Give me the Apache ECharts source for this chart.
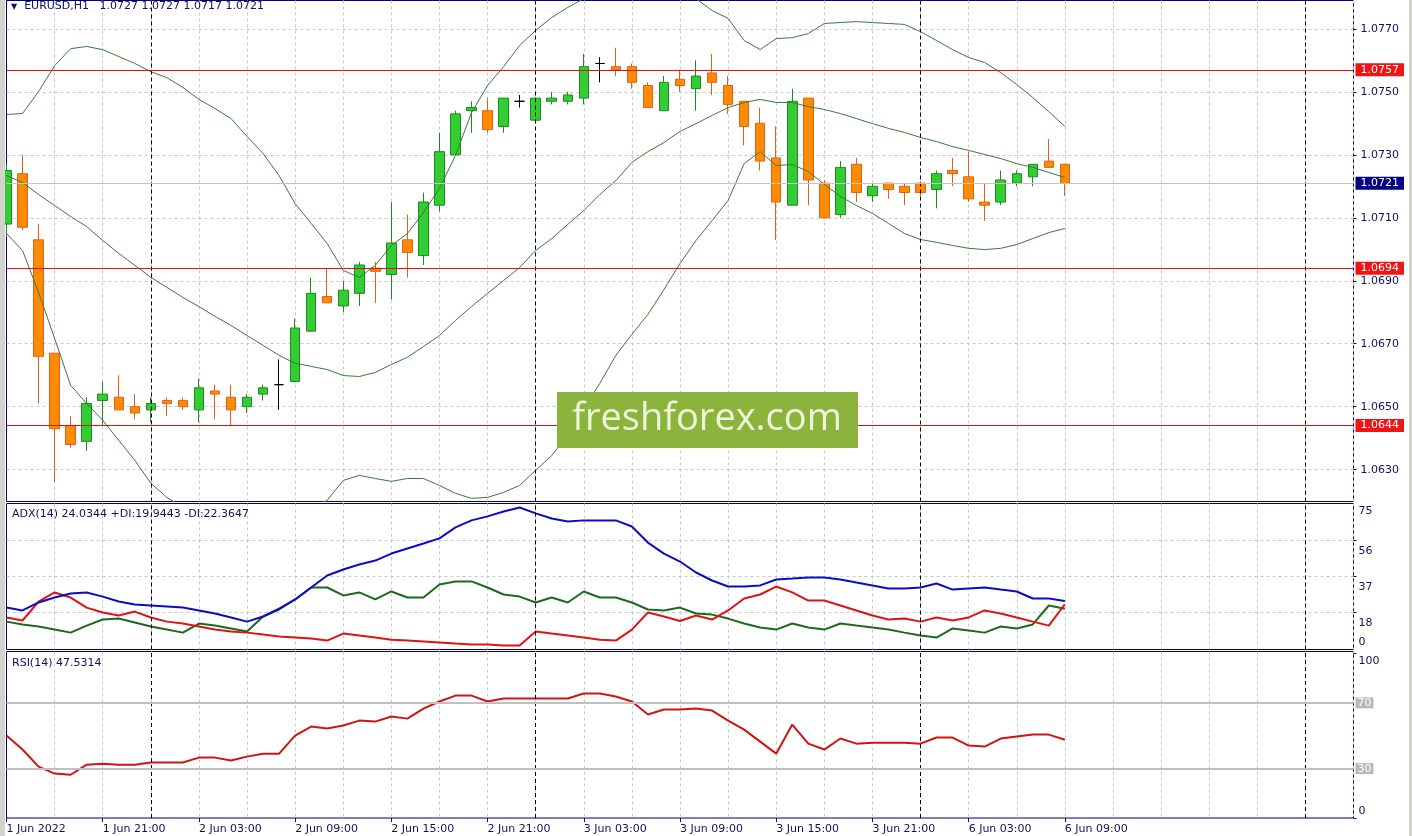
<!DOCTYPE html>
<html><head><meta charset="utf-8">
<script src="https://cdn.jsdelivr.net/npm/echarts@6/dist/echarts.min.js"></script>
<style>html,body{margin:0;padding:0;background:#fff}#c{width:1412px;height:836px}</style>
</head><body><div id="c"></div>
<script>
// ---------- DATA ----------
const barTimes = [
 '1 Jun 15:00','1 Jun 16:00','1 Jun 17:00','1 Jun 18:00','1 Jun 19:00','1 Jun 20:00','1 Jun 21:00','1 Jun 22:00','1 Jun 23:00',
 '2 Jun 00:00','2 Jun 01:00','2 Jun 02:00','2 Jun 03:00','2 Jun 04:00','2 Jun 05:00','2 Jun 06:00','2 Jun 07:00','2 Jun 08:00',
 '2 Jun 09:00','2 Jun 10:00','2 Jun 11:00','2 Jun 12:00','2 Jun 13:00','2 Jun 14:00','2 Jun 15:00','2 Jun 16:00','2 Jun 17:00',
 '2 Jun 18:00','2 Jun 19:00','2 Jun 20:00','2 Jun 21:00','2 Jun 22:00','2 Jun 23:00',
 '3 Jun 00:00','3 Jun 01:00','3 Jun 02:00','3 Jun 03:00','3 Jun 04:00','3 Jun 05:00','3 Jun 06:00','3 Jun 07:00','3 Jun 08:00',
 '3 Jun 09:00','3 Jun 10:00','3 Jun 11:00','3 Jun 12:00','3 Jun 13:00','3 Jun 14:00','3 Jun 15:00','3 Jun 16:00','3 Jun 17:00',
 '3 Jun 18:00','3 Jun 19:00','3 Jun 20:00','3 Jun 21:00','3 Jun 22:00','3 Jun 23:00',
 '6 Jun 00:00','6 Jun 01:00','6 Jun 02:00','6 Jun 03:00','6 Jun 04:00','6 Jun 05:00','6 Jun 06:00','6 Jun 07:00','6 Jun 08:00','6 Jun 09:00'
];
const futureSlots = [
 '6 Jun 10:00','6 Jun 11:00','6 Jun 12:00','6 Jun 13:00','6 Jun 14:00','6 Jun 15:00','6 Jun 16:00','6 Jun 17:00','6 Jun 18:00',
 '6 Jun 19:00','6 Jun 20:00','6 Jun 21:00','6 Jun 22:00','6 Jun 23:00','7 Jun 00:00','7 Jun 01:00','7 Jun 02:00','7 Jun 03:00'
];
const xTickLabels = ['1 Jun 2022','1 Jun 21:00','2 Jun 03:00','2 Jun 09:00','2 Jun 15:00','2 Jun 21:00',
 '3 Jun 03:00','3 Jun 09:00','3 Jun 15:00','3 Jun 21:00','6 Jun 03:00','6 Jun 09:00'];
const daySeparators = ['2 Jun 00:00','3 Jun 00:00','6 Jun 00:00','7 Jun 00:00'];

const opens = [1.0708,1.0724,1.0703,1.0667,1.0644,1.0639,1.0652,1.0653,1.0650,1.0649,1.0652,1.0652,1.0649,1.0655,1.0653,1.0650,1.0654,1.0657,
 1.0658,1.0674,1.0685,1.0682,1.0686,1.0694,1.0692,1.0703,1.0698,1.0714,1.0730,1.0744,1.0744,1.0739,1.0747,1.0741,1.0747,1.0747,1.0748,
 1.0759,1.0758,1.0758,1.0752,1.0744,1.0754,1.0751,1.0756,1.0752,1.0747,1.0740,1.0729,1.0714,1.0748,1.0721,1.0711,1.0727,1.0717,1.0721,
 1.0720,1.0721,1.0719,1.0725,1.0723,1.0715,1.0715,1.0721,1.0723,1.0728,1.0727];
const highs = [1.0727,1.0730,1.0708,1.0667,1.0647,1.0653,1.0658,1.0660,1.0654,1.0653,1.0653,1.0653,1.0659,1.0657,1.0657,1.0654,1.0657,1.0665,
 1.0678,1.0691,1.0694,1.0690,1.0696,1.0696,1.0715,1.0711,1.0718,1.0737,1.0744,1.0747,1.0748,1.0748,1.0749,1.0748,1.0750,1.0750,1.0762,
 1.0761,1.0764,1.0759,1.0753,1.0755,1.0757,1.0760,1.0762,1.0755,1.0747,1.0745,1.0739,1.0751,1.0748,1.0722,1.0728,1.0729,1.0721,1.0721,
 1.0721,1.0721,1.0725,1.0729,1.0731,1.0721,1.0725,1.0725,1.0727,1.0735,1.0727];
const lows = [1.0704,1.0706,1.0651,1.0626,1.0637,1.0636,1.0644,1.0649,1.0646,1.0645,1.0647,1.0649,1.0645,1.0646,1.0644,1.0648,1.0652,1.0649,
 1.0658,1.0674,1.0683,1.0680,1.0682,1.0683,1.0684,1.0691,1.0695,1.0712,1.0730,1.0737,1.0737,1.0737,1.0745,1.0741,1.0746,1.0746,1.0746,
 1.0753,1.0755,1.0751,1.0745,1.0744,1.0750,1.0744,1.0749,1.0743,1.0733,1.0725,1.0703,1.0714,1.0714,1.0710,1.0710,1.0715,1.0715,1.0716,
 1.0714,1.0717,1.0713,1.0720,1.0715,1.0709,1.0714,1.0720,1.0720,1.0726,1.0717];
const closes = [1.0725,1.0707,1.0666,1.0643,1.0638,1.0651,1.0654,1.0649,1.0648,1.0651,1.0651,1.0650,1.0656,1.0654,1.0649,1.0653,1.0656,1.0657,
 1.0675,1.0686,1.0683,1.0687,1.0695,1.0693,1.0702,1.0699,1.0715,1.0731,1.0743,1.0745,1.0738,1.0748,1.0747,1.0748,1.0748,1.0749,1.0758,
 1.0759,1.0757,1.0753,1.0745,1.0753,1.0752,1.0755,1.0753,1.0746,1.0739,1.0728,1.0715,1.0747,1.0722,1.0710,1.0726,1.0718,1.0720,1.0719,
 1.0718,1.0718,1.0724,1.0724,1.0716,1.0714,1.0722,1.0724,1.0727,1.0726,1.0721];

const bbUpper = [1.07428,1.07431,1.07501,1.07583,1.07637,1.07644,1.07634,1.07612,1.07590,1.07564,1.07545,1.07514,1.07476,1.07447,1.07415,
 1.07358,1.07304,1.07234,1.07145,1.07082,1.07018,1.06933,1.06910,1.06949,1.07012,1.07050,1.07117,1.07193,1.07298,1.07434,1.07520,1.07580,
 1.07647,1.07695,1.07736,1.07768,1.07796,1.07822,1.07838,1.07847,1.07847,1.07838,1.07822,1.07796,1.07758,1.07733,1.07663,1.07634,1.07669,
 1.07672,1.07685,1.07717,1.07720,1.07723,1.07720,1.07717,1.07714,1.07691,1.07663,1.07634,1.07609,1.07593,1.07561,1.07523,1.07482,1.07437,1.07390];
const bbMiddle = [1.07234,1.07212,1.07174,1.07139,1.07104,1.07072,1.07028,1.06987,1.06949,1.06911,1.06879,1.06847,1.06818,1.06787,1.06758,
 1.06726,1.06695,1.06663,1.06638,1.06628,1.06618,1.06599,1.06596,1.06609,1.06634,1.06657,1.06691,1.06726,1.06774,1.06818,1.06860,1.06901,
 1.06942,1.06996,1.07034,1.07079,1.07123,1.07174,1.07218,1.07276,1.07310,1.07339,1.07374,1.07399,1.07425,1.07450,1.07466,1.07476,1.07466,
 1.07466,1.07453,1.07444,1.07431,1.07415,1.07399,1.07384,1.07371,1.07355,1.07342,1.07326,1.07314,1.07301,1.07288,1.07272,1.07260,1.07244,1.07228];
const bbLower = [1.07050,1.06996,1.06863,1.06717,1.06568,1.06510,1.06457,1.06393,1.06330,1.06257,1.06212,1.06180,1.06161,1.06126,1.06101,
 1.06095,1.06085,1.06091,1.06130,1.06174,1.06203,1.06266,1.06282,1.06272,1.06263,1.06272,1.06272,1.06250,1.06225,1.06209,1.06212,1.06228,
 1.06250,1.06298,1.06345,1.06409,1.06495,1.06574,1.06663,1.06730,1.06793,1.06872,1.06955,1.07028,1.07091,1.07155,1.07272,1.07310,1.07266,
 1.07269,1.07247,1.07206,1.07168,1.07139,1.07114,1.07082,1.07050,1.07031,1.07022,1.07012,1.07003,1.06999,1.07003,1.07015,1.07034,1.07053,1.07066];

const adx = [20.6,19.1,23.3,25.9,28.0,28.6,26.4,23.8,22.2,21.7,21.2,20.6,19.1,17.5,15.4,13.2,15.9,20.1,24.9,31.2,37.5,40.7,43.3,45.4,
 49.1,51.8,54.4,57.1,62.9,66.6,68.7,71.3,73.4,70.3,67.6,66.0,66.6,66.6,66.6,63.4,54.9,49.1,44.9,39.1,34.9,31.7,31.7,32.3,35.4,35.9,
 36.5,36.5,35.4,33.8,32.3,30.7,30.7,31.2,33.3,30.1,30.7,31.2,30.1,29.1,25.4,25.4,24.0344];
const plusDI = [13.2,11.7,10.6,9.0,7.4,11.1,14.3,14.8,12.7,10.6,9.0,7.4,12.2,11.1,9.6,8.0,15.9,19.6,24.9,31.2,31.2,27.0,28.6,24.9,
 29.1,25.9,25.9,32.8,34.4,34.4,31.2,27.5,26.4,23.3,25.9,23.3,29.1,25.9,25.9,23.3,19.6,19.1,20.6,17.5,16.9,14.8,12.2,10.1,9.0,12.2,
 10.1,9.0,12.2,11.1,10.1,9.0,7.4,5.9,4.8,9.6,8.5,7.4,10.6,9.6,11.7,21.7,19.9443];
const minusDI = [15.4,13.8,23.8,28.6,25.9,20.6,18.0,16.4,18.5,15.4,13.2,12.2,10.6,9.0,8.0,7.4,6.4,5.3,4.8,4.3,3.2,6.9,5.9,4.8,
 3.7,3.2,2.7,2.2,1.6,1.1,1.1,0.6,0.6,8.0,6.9,5.9,4.8,3.7,3.2,9.0,18.0,15.9,13.5,16.4,14.3,19.1,25.4,27.5,31.7,28.6,
 24.3,24.3,21.7,19.1,16.4,14.3,14.8,13.2,15.4,13.8,15.4,19.1,17.5,15.4,13.2,11.1,22.3647];
const rsi = [50.1,41.6,31.2,27.0,26.3,32.4,33.0,32.4,32.4,33.7,33.7,33.7,36.7,36.7,34.9,37.3,39.1,39.1,50.1,55.6,54.4,56.2,59.2,58.6,
 61.7,60.4,66.5,70.8,74.4,74.4,70.8,72.6,72.6,72.6,72.6,72.6,75.7,75.7,73.8,70.8,62.9,65.9,65.9,66.5,65.3,59.2,53.7,46.4,39.1,56.8,
 45.2,41.6,48.3,45.2,45.8,45.8,45.8,45.2,48.9,48.9,44.0,43.4,48.3,49.5,50.7,50.7,47.5314];

const priceTicks = [1.0630,1.0650,1.0670,1.0690,1.0710,1.0730,1.0750,1.0770];
const adxLabelTicks = [0,18,37,56,75];
const adxGridTicks = [18,37,56];
const rsiLabelTicks = [0,100];
const rsiLevels = [70,30];
const keyLevels = [1.0757,1.0694,1.0644];
const bidPrice = 1.0721;

// ---------- CHART ----------
const FONT = 'DejaVu Sans';
const NAVY = '#10105e';
const GRIDC = '#c8c8c8';
const axisCats = barTimes.concat(futureSlots);
const last = barTimes.length - 1;
const showTick = (idx) => idx % 6 === 0 && idx / 6 < xTickLabels.length;

function xAxisFor(gi, labels) {
  return {
    type: 'category', gridIndex: gi, data: axisCats, boundaryGap: false,
    axisLine: {show: false},
    axisTick: {show: labels, interval: showTick, length: 4, lineStyle: {color: NAVY}},
    axisLabel: {show: labels, interval: showTick, formatter: (v, idx) => xTickLabels[idx / 6],
      align: 'left', margin: 6, color: NAVY, fontFamily: FONT, fontSize: 11},
    splitLine: {show: true, interval: (idx) => idx % 3 === 0 && idx > 0,
      lineStyle: {color: GRIDC, type: [3, 3], width: 1}}
  };
}
const sepLines = () => daySeparators.map(d => ({xAxis: d, lineStyle: {color: '#000', type: [4, 3], width: 1}, label: {show: false}}));
const lvlLabel = (txt, bg) => ({show: true, position: 'end', formatter: txt, distance: 2, backgroundColor: bg, color: '#fff',
  padding: [1, 5, 0, 5], fontFamily: FONT, fontSize: 11, lineHeight: 12});

const GL = 6.5, GR = 58.5;
const option = {
  animation: false,
  backgroundColor: '#ffffff',
  title: [
    {text: '{t|▼}  EURUSD,H1   ' + [opens[last], highs[last], lows[last], closes[last]].map(v => v.toFixed(4)).join(' '),
     left: 11, top: 1, padding: 0,
     textStyle: {fontFamily: FONT, fontSize: 11, fontWeight: 'normal', color: NAVY,
       rich: {t: {fontSize: 8, color: NAVY, fontFamily: FONT}}}},
    {text: 'ADX(14) ' + adx[last].toFixed(4) + ' +DI:' + plusDI[last].toFixed(4) + ' -DI:' + minusDI[last].toFixed(4),
     left: 12, top: 509, padding: 0, textStyle: {fontFamily: FONT, fontSize: 11, fontWeight: 'normal', color: NAVY}},
    {text: 'RSI(14) ' + rsi[last].toFixed(4), left: 12, top: 658, padding: 0,
     textStyle: {fontFamily: FONT, fontSize: 11, fontWeight: 'normal', color: NAVY}}
  ],
  grid: [
    {left: GL, right: GR, top: 0.5, height: 501, show: true, borderColor: '#000080', borderWidth: 1, backgroundColor: '#fff'},
    {left: GL, right: GR, top: 503.5, height: 146, show: true, borderColor: '#000080', borderWidth: 1, backgroundColor: '#fff'},
    {left: GL, right: GR, top: 651.5, height: 166.5, show: true, borderColor: '#000080', borderWidth: 1, backgroundColor: '#fff'}
  ],
  xAxis: [xAxisFor(0, false), xAxisFor(1, false), xAxisFor(2, true)],
  yAxis: [
    {type: 'value', gridIndex: 0, position: 'right', min: 1.06199, max: 1.07790,
     axisLine: {show: false},
     axisTick: {show: true, customValues: priceTicks, length: 3, lineStyle: {color: NAVY}},
     axisLabel: {customValues: priceTicks, formatter: v => v.toFixed(4), color: NAVY, fontFamily: FONT, fontSize: 11, margin: 7},
     splitLine: {show: true, lineStyle: {color: GRIDC, type: [3, 3], width: 1}}},
    {type: 'value', gridIndex: 1, position: 'right', min: -1.5, max: 75.5,
     axisLine: {show: false},
     axisTick: {show: true, customValues: adxGridTicks, length: 3, lineStyle: {color: NAVY}},
     axisLabel: {customValues: adxLabelTicks, margin: 5,
       formatter: v => v === 0 ? '{b|0}' : (v === 75 ? '{a|75}' : '{c|' + v + '}'),
       rich: {a: {padding: [14, 0, 0, 0], color: NAVY, fontFamily: FONT, fontSize: 11},
              b: {padding: [0, 0, 10, 0], color: NAVY, fontFamily: FONT, fontSize: 11},
              c: {padding: [21, 0, 0, 0], color: NAVY, fontFamily: FONT, fontSize: 11}}},
     splitLine: {show: true, lineStyle: {color: GRIDC, type: [3, 3], width: 1}}},
    {type: 'value', gridIndex: 2, position: 'right', min: 0, max: 101.2,
     axisLine: {show: false},
     axisTick: {show: true, customValues: rsiLabelTicks, length: 3, lineStyle: {color: NAVY}},
     axisLabel: {customValues: rsiLabelTicks, margin: 5,
       formatter: v => v === 0 ? '{b|0}' : '{a|' + v + '}',
       rich: {a: {padding: [15, 0, 0, 0], color: NAVY, fontFamily: FONT, fontSize: 11},
              b: {padding: [0, 0, 13, 0], color: NAVY, fontFamily: FONT, fontSize: 11}}},
     splitLine: {show: false}}
  ],
  series: [
    {type: 'candlestick', name: 'EURUSD', xAxisIndex: 0, yAxisIndex: 0, barWidth: 10, z: 2,
     data: opens.map((o, i) => [o, closes[i], lows[i], highs[i]]),
     itemStyle: {color: '#32cd32', color0: '#ff8c00', borderColor: '#1f8a1f', borderColor0: '#e0601a',
       borderColorDoji: '#000000', borderWidth: 1},
     markLine: {symbol: ['none', 'none'], silent: true, animation: false, data: sepLines()}},
    {type: 'line', name: 'BB upper', xAxisIndex: 0, yAxisIndex: 0, data: bbUpper, symbol: 'none', z: 3,
     lineStyle: {color: '#3a7a3a', width: 1}},
    {type: 'line', name: 'BB middle', xAxisIndex: 0, yAxisIndex: 0, data: bbMiddle, symbol: 'none', z: 3,
     lineStyle: {color: '#3a7a3a', width: 1},
     markLine: {symbol: ['none', 'none'], silent: true, animation: false, precision: 5,
       data: [{yAxis: bidPrice, lineStyle: {color: '#c4c4c4', type: 'solid', width: 1}, label: lvlLabel(bidPrice.toFixed(4), '#000080')}]
         .concat(keyLevels.map(v => ({yAxis: v, lineStyle: {color: '#e01010', type: 'solid', width: 1}, label: lvlLabel(v.toFixed(4), '#f01414')})))}},
    {type: 'line', name: 'BB lower', xAxisIndex: 0, yAxisIndex: 0, data: bbLower, symbol: 'none', z: 3,
     lineStyle: {color: '#3a7a3a', width: 1}},
    {type: 'line', name: 'ADX', xAxisIndex: 1, yAxisIndex: 1, data: adx, symbol: 'none', z: 4,
     lineStyle: {color: '#0b0bc8', width: 2},
     markLine: {symbol: ['none', 'none'], silent: true, animation: false, data: sepLines()}},
    {type: 'line', name: '+DI', xAxisIndex: 1, yAxisIndex: 1, data: plusDI, symbol: 'none', z: 3,
     lineStyle: {color: '#1d6a1d', width: 2}},
    {type: 'line', name: '-DI', xAxisIndex: 1, yAxisIndex: 1, data: minusDI, symbol: 'none', z: 3,
     lineStyle: {color: '#dc1414', width: 2}},
    {type: 'line', name: 'RSI', xAxisIndex: 2, yAxisIndex: 2, data: rsi, symbol: 'none', z: 3,
     lineStyle: {color: '#d01414', width: 2},
     markLine: {symbol: ['none', 'none'], silent: true, animation: false,
       data: sepLines().concat(rsiLevels.map(v => ({yAxis: v, lineStyle: {color: '#c0c0c0', type: 'solid', width: 2},
         label: {show: true, position: 'end', formatter: String(v), distance: 2, backgroundColor: '#b8b8b8', color: '#fff',
           padding: [0, 2, 0, 2], fontFamily: FONT, fontSize: 11, lineHeight: 11}})))}}
  ],
  graphic: [
    {type: 'rect', left: 0, top: 0, z: 200, shape: {width: 5, height: 836}, style: {fill: '#d4d2cc'}, silent: true},
    {type: 'rect', right: 0, top: 0, z: 200, shape: {width: 3, height: 836}, style: {fill: '#d4d2cc'}, silent: true},
    {type: 'group', left: 557, top: 392, z: 200, silent: true, children: [
      {type: 'rect', z: 200, shape: {x: 0, y: 0, width: 301, height: 56}, style: {fill: '#8cb33c'}},
      {type: 'text', z: 201, x: 150, y: 27, style: {text: 'freshforex.com', fontFamily: 'Open Sans', fontSize: 38,
        fill: '#eef5dd', align: 'center', verticalAlign: 'middle', textAlign: 'center', textVerticalAlign: 'middle'}}
    ]}
  ]
};
const chart = echarts.init(document.getElementById('c'), null, {renderer: 'canvas'});
chart.setOption(option);
</script>
</body></html>
